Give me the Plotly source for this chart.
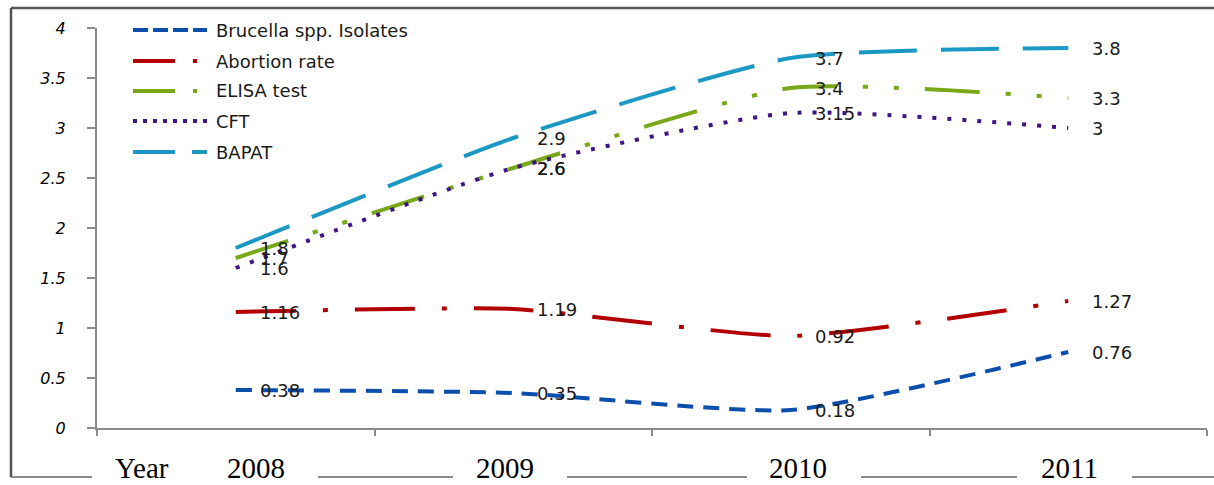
import plotly.graph_objects as go

# ---- data -------------------------------------------------------------
years = ["2008", "2009", "2010", "2011"]

brucella_isolates = [0.38, 0.35, 0.18, 0.76]
abortion_rate = [1.16, 1.19, 0.92, 1.27]
elisa_test = [1.7, 2.6, 3.4, 3.3]
cft = [1.6, 2.6, 3.15, 3.0]
bapat = [1.8, 2.9, 3.7, 3.8]

y_ticks = [0, 0.5, 1, 1.5, 2, 2.5, 3, 3.5, 4]

# ---- styling ----------------------------------------------------------
W, H = 1214, 485
ML, MR, MT, MB = 97, 7, 28, 57
PW, PH = W - ML - MR, H - MT - MB

series = [
    ("Brucella spp. Isolates", brucella_isolates, "#0B4EAC", "16px,10px", "15px,5px"),
    ("Abortion rate", abortion_rate, "#B20000", "60px,27px,5px,27px", "42px,18px,4px,18px"),
    ("ELISA test", elisa_test, "#78A818", "55px,26px,5px,26px,5px,26px", "42px,18px,4px,18px"),
    ("CFT", cft, "#3E1683", "4px,11px", "4px,6px"),
    ("BAPAT", bapat, "#1C98C5", "58px,24px", "42px,17px"),
]


def px_x(px):
    return (px - ML) / PW


def px_y(py):
    return (H - MB - py) / PH


fig = go.Figure()
annotations = []
shapes = []

for name, vals, color, dash, _ in series:
    fig.add_trace(go.Scatter(
        x=years, y=vals, name=name, mode="lines",
        line=dict(color=color, width=4, dash=dash, shape="spline", smoothing=0.55),
        showlegend=False, hoverinfo="x+y+name",
    ))
    # value labels, placed just right of each point (category index on x)
    for i, v in enumerate(vals):
        annotations.append(dict(
            x=i, y=v, xref="x", yref="y", text=f"{v:g}", showarrow=False,
            xanchor="left", yanchor="middle", xshift=22,
            font=dict(family="DejaVu Sans", size=18, color="#1a1a1a"),
        ))

# legend block in the upper left of the plot
legend_rows = [30, 61, 91, 121, 152]
for (name, _, color, _, ldash), row in zip(series, legend_rows):
    shapes.append(dict(
        type="line", xref="paper", yref="paper",
        x0=px_x(133), x1=px_x(207), y0=px_y(row), y1=px_y(row),
        line=dict(color=color, width=4, dash=ldash),
    ))
    annotations.append(dict(
        x=px_x(214), y=px_y(row), xref="paper", yref="paper", text=name,
        showarrow=False, xanchor="left", yanchor="middle",
        font=dict(family="DejaVu Sans", size=18, color="#1a1a1a"),
    ))

# frame around the chart
frame = dict(color="#555555", width=2.5)
shapes.append(dict(type="line", xref="paper", yref="paper",
                   x0=px_x(11), x1=px_x(W + 5), y0=px_y(8), y1=px_y(8), line=frame))
shapes.append(dict(type="line", xref="paper", yref="paper",
                   x0=px_x(11), x1=px_x(11), y0=px_y(8), y1=px_y(477), line=frame))

# year row beneath the chart, with rules between the labels
row_y = 477
for x0, x1 in [(11, 92), (318, 453), (567, 747), (861, 1017), (1132, W + 5)]:
    shapes.append(dict(type="line", xref="paper", yref="paper",
                       x0=px_x(x0), x1=px_x(x1), y0=px_y(row_y), y1=px_y(row_y),
                       line=dict(color="#666666", width=1.5)))

row_labels = [("Year", 142), (years[0], 256), (years[1], 505), (years[2], 798), (years[3], 1069)]
for txt, cx in row_labels:
    annotations.append(dict(
        x=px_x(cx), y=px_y(468), xref="paper", yref="paper", text=txt,
        showarrow=False, xanchor="center", yanchor="middle",
        font=dict(family="Liberation Serif", size=29, color="#000000"),
    ))

fig.update_layout(
    width=W, height=H,
    margin=dict(l=ML, r=MR, t=MT, b=MB),
    paper_bgcolor="white", plot_bgcolor="white",
    annotations=annotations, shapes=shapes,
    showlegend=False,
    xaxis=dict(
        type="category", categoryorder="array", categoryarray=years,
        range=[-0.5, 3.5], showticklabels=False, ticks="outside",
        tickson="boundaries", ticklen=6, tickwidth=1.5, tickcolor="#8c8c8c",
        showline=True, linecolor="#8c8c8c", linewidth=2,
        showgrid=False, zeroline=False,
    ),
    yaxis=dict(
        range=[0, 4], tickvals=y_ticks, ticktext=[f"{t:g}" for t in y_ticks],
        ticks="outside", ticklen=8, tickwidth=1.5, tickcolor="#8c8c8c",
        ticklabelstandoff=18,
        tickfont=dict(family="DejaVu Sans", size=16, style="italic", color="#000000"),
        showline=True, linecolor="#8c8c8c", linewidth=2,
        showgrid=False, zeroline=False,
    ),
)

fig.write_html("out.html")
